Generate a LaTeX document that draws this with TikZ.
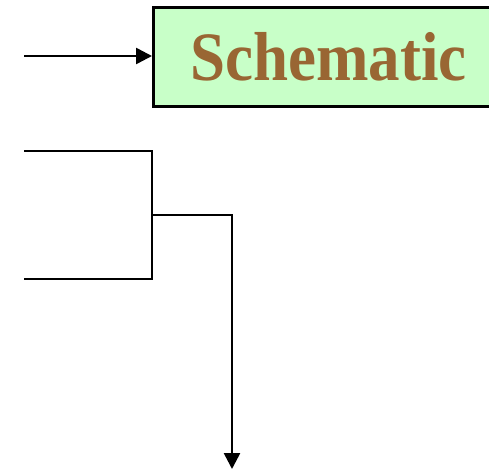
\documentclass[tikz,border=0pt]{standalone}
\usepackage{fontspec}
\setmainfont{Liberation Serif}
\usetikzlibrary{arrows.meta}
\definecolor{boxfill}{HTML}{C8FFC8}
\definecolor{titlebrown}{HTML}{996633}
\begin{document}
\begin{tikzpicture}[x=1pt,y=-1pt,
  wire/.style={line width=2.6pt},
  flow/.style={wire,-{Triangle[length=16pt,width=16pt]}},
  titlebox/.style={draw=black,line width=3pt,fill=boxfill,anchor=west,
    minimum height=99pt,text width=306pt,inner xsep=37pt,align=left,
    font=\bfseries\fontsize{63}{63}\selectfont,text=titlebrown}]
  \useasboundingbox (0,0) rectangle (489,471);
  \clip (0,0) rectangle (489,471);
  % title block, running off to the right
  \node[titlebox] (title) at (152,56.5) {\scalebox{1}[1.1]{Schematic}};
  \coordinate (inA) at (24,56);
  \draw[flow] (inA) -- (inA -| title.west);
  % two inputs merged by a bracket
  \coordinate (top) at (24,151);
  \coordinate (bot) at (24,279);
  \coordinate (tc) at (152,151);
  \coordinate (bc) at (152,279);
  \coordinate (mid) at (152,215);
  \coordinate (turn) at (232,215);
  \coordinate (out) at (232,469);
  \draw[wire,line join=miter] (top) -- (tc) -- (bc) -- (bot);
  \draw[flow] (mid) -- (turn) -- (out);
\end{tikzpicture}
\end{document}
